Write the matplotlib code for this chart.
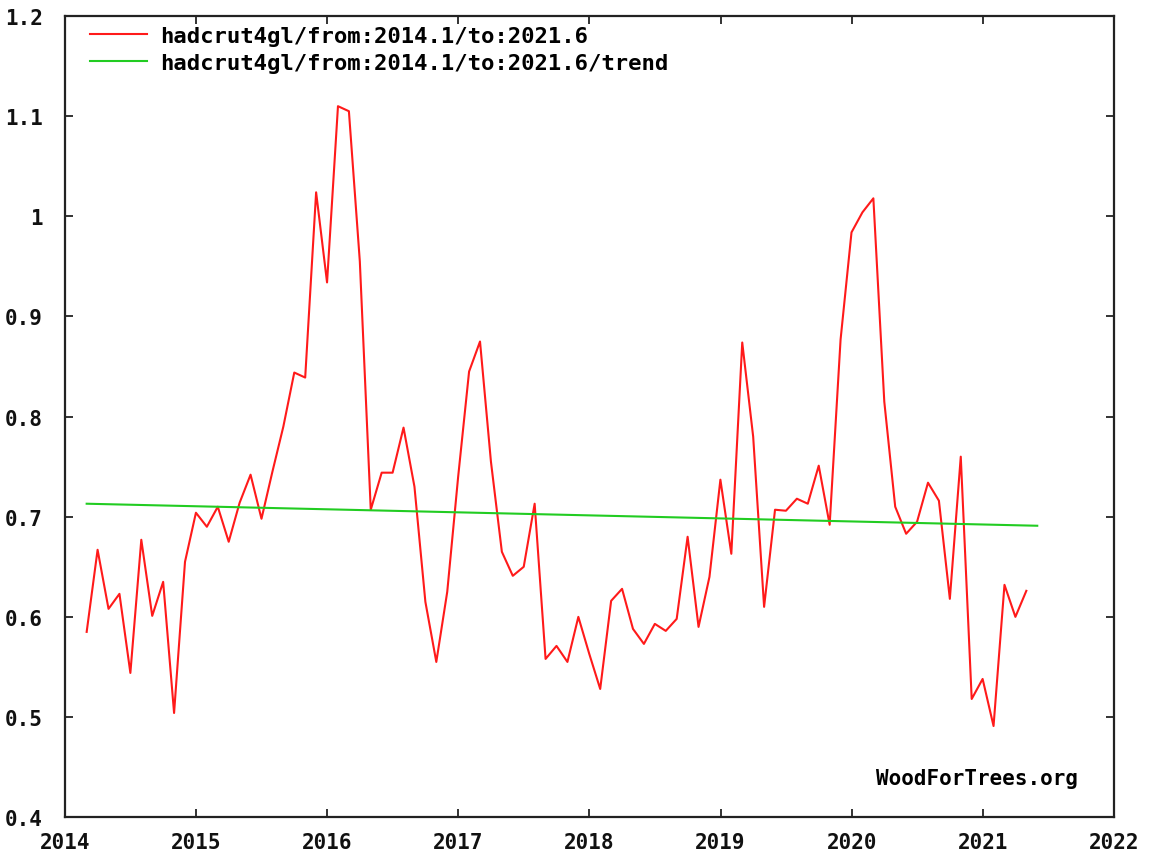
import numpy as np
import matplotlib
matplotlib.use("Agg")
import matplotlib.pyplot as plt

# monthly anomalies, starting 2014.1
start_year = 2014.165
anomaly = [0.585, 0.667, 0.608, 0.623, 0.544, 0.677, 0.601, 0.635, 0.504, 0.655,
           0.704, 0.690, 0.710, 0.675, 0.714, 0.742, 0.698, 0.745, 0.790, 0.844,
           0.839, 1.024, 0.934, 1.110, 1.105, 0.955, 0.707, 0.744, 0.744, 0.789,
           0.730, 0.615, 0.555, 0.625, 0.740, 0.845, 0.875, 0.755, 0.665, 0.641,
           0.650, 0.713, 0.558, 0.571, 0.555, 0.600, 0.563, 0.528, 0.616, 0.628,
           0.588, 0.573, 0.593, 0.586, 0.598, 0.680, 0.590, 0.640, 0.737, 0.663,
           0.874, 0.780, 0.610, 0.707, 0.706, 0.718, 0.713, 0.751, 0.692, 0.877,
           0.984, 1.004, 1.018, 0.815, 0.710, 0.683, 0.695, 0.734, 0.716, 0.618,
           0.760, 0.518, 0.538, 0.491, 0.632, 0.600, 0.626]

# trend line end values
trend_values = [0.713, 0.691]

x_ticks = [2014, 2015, 2016, 2017, 2018, 2019, 2020, 2021, 2022]
y_ticks = [0.4, 0.5, 0.6, 0.7, 0.8, 0.9, 1.0, 1.1, 1.2]
y_labels = ['0.4', '0.5', '0.6', '0.7', '0.8', '0.9', '1', '1.1', '1.2']

label_red = 'hadcrut4gl/from:2014.1/to:2021.6'
label_green = 'hadcrut4gl/from:2014.1/to:2021.6/trend'

plt.rcParams['font.family'] = ['DejaVu Sans Mono']
plt.rcParams['font.weight'] = 'bold'

months = start_year + np.arange(len(anomaly)) / 12
trend_x = [months[0], months[-1] + 1 / 12]

fig = plt.figure(figsize=(11.49, 8.54), dpi=100)
ax = fig.add_axes([0.0566, 0.042, 0.9129, 0.938])

ax.plot(months, anomaly, color='#ff1a1a', lw=1.5, label=label_red)
ax.plot(trend_x, trend_values, color='#22cc22', lw=1.5, label=label_green)

ax.set_xlim(2014, 2022)
ax.set_ylim(0.4, 1.2)
ax.set_xticks(x_ticks)
ax.set_xticklabels([str(y) for y in x_ticks])
ax.set_yticks(y_ticks)
ax.set_yticklabels(y_labels)
ax.tick_params(direction='in', length=6, width=1.2, top=True, right=True,
               labelsize=15, colors='#111111')
ax.tick_params(axis='x', pad=11)
ax.tick_params(axis='y', pad=16)
for s in ax.spines.values():
    s.set_linewidth(1.6)
    s.set_color('#222222')

leg = ax.legend(loc='upper left', bbox_to_anchor=(0.014, 1.0), frameon=False,
                fontsize=16, handlelength=2.6, handletextpad=0.55,
                labelspacing=0.3, borderaxespad=0.05)

ax.text(0.966, 0.049, 'WoodForTrees.org', transform=ax.transAxes,
        ha='right', va='center', fontsize=15, fontweight='bold')

fig.savefig('out.png', dpi=100)
